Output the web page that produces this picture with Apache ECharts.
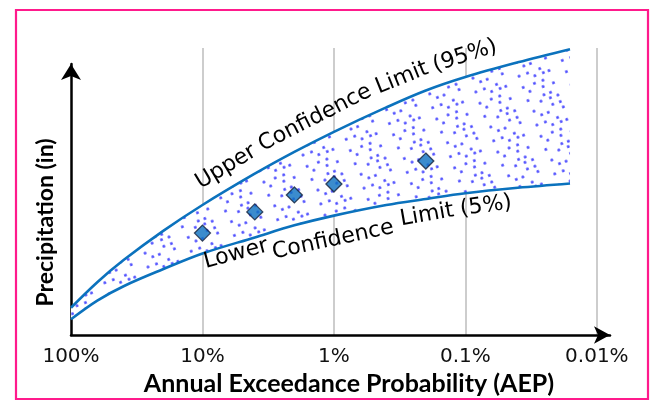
<!DOCTYPE html>
<html>
<head>
<meta charset="utf-8">
<script src="https://cdn.jsdelivr.net/npm/echarts@6/dist/echarts.min.js"></script>
<style>
  html, body { margin: 0; padding: 0; background: #fff; }
  #chart { width: 653px; height: 404px; }
</style>
</head>
<body>
<div id="chart"></div>
<script>
const aepPct = [100, 63.1, 39.8, 20, 10, 4, 2, 1, 0.4, 0.2, 0.1, 0.04, 0.016];
// precipitation (arbitrary units, the original has no y ticks)
const upperLimit = [9.5, 18.4, 26.1, 36.2, 45.3, 56.2, 63.8, 70.8, 79.3, 85.2, 89.9, 95.0, 99.6];
const lowerLimit = [5.5, 12.0, 17.0, 22.9, 28.4, 34.0, 38.2, 41.6, 45.3, 47.4, 49.4, 51.3, 52.8];
// estimates (diamonds)
const estAep = [10, 4, 2, 1, 0.2];
const estPrecip = [35.5, 42.9, 48.8, 52.6, 60.6];
const tickLabels = ['100%', '10%', '1%', '0.1%', '0.01%'];

// x = decades below 100% (log scale, reversed)
const toX = p => Math.log10(100 / p);

// pairs are [precip, x] so that stacking happens on precipitation
const upperData = aepPct.map((p, i) => [upperLimit[i], toX(p)]);
const lowerData = aepPct.map((p, i) => [lowerLimit[i], toX(p)]);
const bandData = aepPct.map((p, i) => [upperLimit[i] - lowerLimit[i], toX(p)]);
const estData = estAep.map((p, i) => [estPrecip[i], toX(p)]);
const dims = ['precip', 'aep'];
const enc = {x: 'aep', y: 'precip'};

const lineBlue = '#0b72bd';
const labelFont = '22px "DejaVu Sans"';

// dotted texture for the confidence band
const dots = {
  symbol: 'circle',
  symbolSize: 1,
  color: 'rgba(35,35,255,0.8)',
  dashArrayX: [
    [3, 9, 3, 6, 3, 22],
    [0, 5, 3, 11, 3, 8, 3, 13],
    [3, 14, 3, 4, 3, 19],
    [0, 12, 3, 7, 3, 5, 3, 13],
    [0, 2, 3, 17, 3, 5, 3, 13],
    [0, 8, 3, 4, 3, 13, 3, 12],
    [3, 6, 3, 10, 3, 21],
    [0, 15, 3, 6, 3, 3, 3, 13]
  ],
  dashArrayY: [3, 3, 3, 5, 3, 2, 3, 4, 3, 3, 3, 5, 3, 2, 3, 4],
  rotation: -0.35
};

const chart = echarts.init(document.getElementById('chart'));

chart.setOption({
  backgroundColor: '#fff',
  animation: false,
  grid: [
    {left: 71, right: 43, top: 48, bottom: 69},
    {left: 71, right: 43, top: 64, bottom: 69},
    {left: 71, right: 43, top: 110, bottom: 69}
  ],
  xAxis: [
    {
      type: 'value',
      gridIndex: 0,
      min: 0,
      max: 4.1,
      interval: 1,
      name: 'Annual Exceedance Probability (AEP)',
      nameLocation: 'middle',
      nameGap: 32,
      nameTextStyle: {
        fontFamily: 'Lato', fontWeight: 'bold', fontSize: 25, color: '#000',
        padding: [0, 0, 0, 17]
      },
      axisLine: {
        show: true,
        symbol: ['none', 'arrow'],
        symbolSize: [13, 16],
        lineStyle: {color: '#000', width: 2.5}
      },
      axisTick: {show: false},
      axisLabel: {
        margin: 12,
        fontFamily: 'DejaVu Sans',
        fontSize: 20,
        color: '#111',
        showMaxLabel: false,
        formatter: v => (Number.isInteger(v) ? tickLabels[v] : '')
      },
      splitLine: {
        show: true,
        showMinLine: false,
        showMaxLine: false,
        lineStyle: {color: '#bdbdbd', width: 1.5}
      }
    },
    {type: 'value', gridIndex: 1, show: false, min: 0, max: 4.1},
    {type: 'value', gridIndex: 2, show: false, min: 0, max: 4.1}
  ],
  yAxis: [
    {type: 'value', gridIndex: 0, min: 0, max: 100, show: false},
    {
      type: 'value',
      gridIndex: 1,
      min: 0,
      max: 100,
      axisLine: {
        show: true,
        symbol: ['none', 'arrow'],
        symbolSize: [15, 16],
        lineStyle: {color: '#000', width: 2.5}
      },
      axisTick: {show: false},
      axisLabel: {show: false},
      splitLine: {show: false}
    },
    {
      // carries the y title only
      type: 'value',
      gridIndex: 2,
      min: 0,
      max: 100,
      name: 'Precipitation (in)',
      nameLocation: 'middle',
      nameGap: 14,
      nameTextStyle: {fontFamily: 'Lato', fontWeight: 'bold', fontSize: 23, color: '#000'},
      axisLine: {show: false},
      axisTick: {show: false},
      axisLabel: {show: false},
      splitLine: {show: false}
    }
  ],
  series: [
    {
      // base of the band (lower limit), invisible
      type: 'line',
      dimensions: dims,
      encode: enc,
      data: lowerData,
      stack: 'band',
      smooth: 0.35,
      symbol: 'none',
      silent: true,
      lineStyle: {opacity: 0},
      z: 2
    },
    {
      // band between the limits: white with blue dots
      type: 'line',
      dimensions: dims,
      encode: enc,
      data: bandData,
      stack: 'band',
      smooth: 0.35,
      symbol: 'none',
      silent: true,
      lineStyle: {opacity: 0},
      itemStyle: {decal: dots},
      areaStyle: {color: '#fff', opacity: 1},
      z: 2
    },
    {
      type: 'line',
      name: 'Upper Confidence Limit (95%)',
      dimensions: dims,
      encode: enc,
      data: upperData,
      smooth: 0.35,
      symbol: 'none',
      clip: false,
      lineStyle: {color: lineBlue, width: 2.6},
      z: 3
    },
    {
      type: 'line',
      name: 'Lower Confidence Limit (5%)',
      dimensions: dims,
      encode: enc,
      data: lowerData,
      smooth: 0.35,
      symbol: 'none',
      clip: false,
      lineStyle: {color: lineBlue, width: 2.6},
      z: 3
    },
    {
      type: 'scatter',
      dimensions: dims,
      encode: enc,
      data: estData,
      symbol: 'diamond',
      symbolSize: 16,
      itemStyle: {color: '#0a6fc0', borderColor: '#14213a', borderWidth: 1.3},
      z: 4
    }
  ],
  graphic: [
    {
      type: 'rect',
      shape: {x: 16, y: 10, width: 632, height: 389},
      style: {fill: 'none', stroke: '#ff1a8c', lineWidth: 2.2},
      z: 100
    },
    // curved labels, one word at a time
    {type: 'text', x: 226, y: 167, rotation: 31 * Math.PI / 180, style: {text: 'Upper', font: labelFont, fill: '#000', align: 'center', verticalAlign: 'middle'}, z: 100},
    {type: 'text', x: 315, y: 118, rotation: 27 * Math.PI / 180, style: {text: 'Confidence', font: labelFont, fill: '#000', align: 'center', verticalAlign: 'middle'}, z: 100},
    {type: 'text', x: 402, y: 78, rotation: 22 * Math.PI / 180, style: {text: 'Limit', font: labelFont, fill: '#000', align: 'center', verticalAlign: 'middle'}, z: 100},
    {type: 'text', x: 465, y: 56, rotation: 18 * Math.PI / 180, style: {text: '(95%)', font: labelFont, fill: '#000', align: 'center', verticalAlign: 'middle'}, z: 100},
    {type: 'text', x: 236, y: 254, rotation: 15 * Math.PI / 180, style: {text: 'Lower', font: labelFont, fill: '#000', align: 'center', verticalAlign: 'middle'}, z: 100},
    {type: 'text', x: 333, y: 240, rotation: 12 * Math.PI / 180, style: {text: 'Confidence', font: labelFont, fill: '#000', align: 'center', verticalAlign: 'middle'}, z: 100},
    {type: 'text', x: 427, y: 215, rotation: 10 * Math.PI / 180, style: {text: 'Limit', font: labelFont, fill: '#000', align: 'center', verticalAlign: 'middle'}, z: 100},
    {type: 'text', x: 486, y: 206, rotation: 8 * Math.PI / 180, style: {text: '(5%)', font: labelFont, fill: '#000', align: 'center', verticalAlign: 'middle'}, z: 100}
  ]
});
</script>
</body>
</html>
